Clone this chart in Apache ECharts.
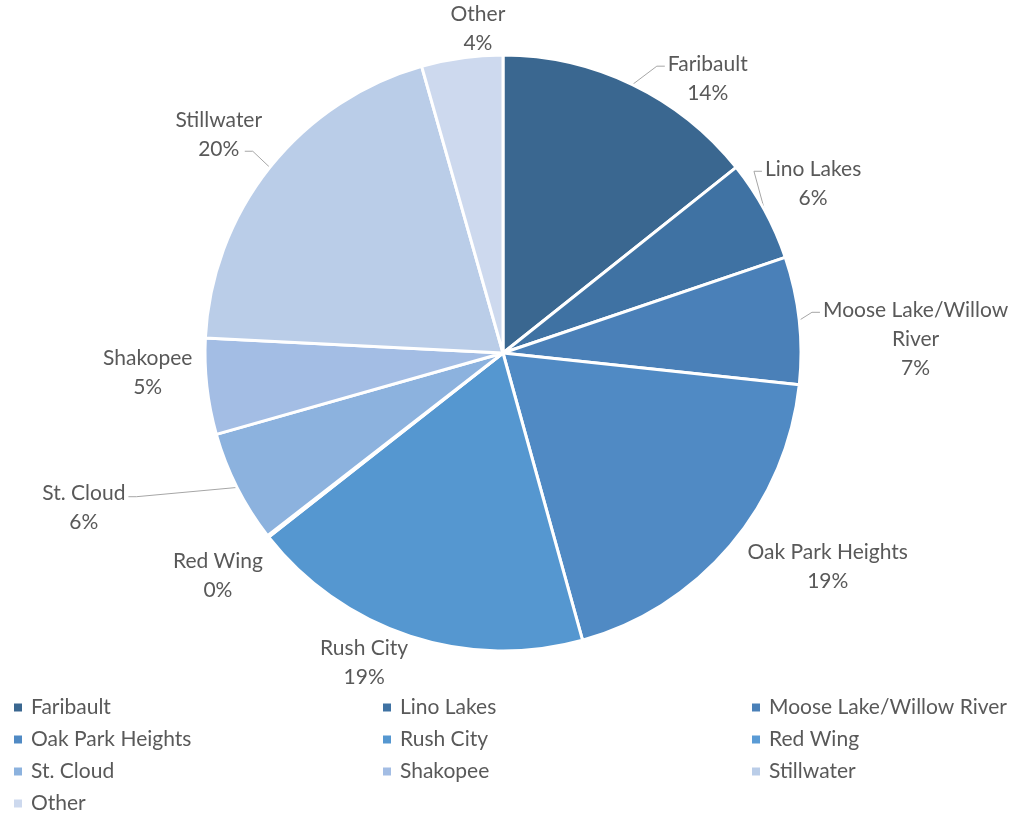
<!DOCTYPE html>
<html>
<head>
<meta charset="utf-8">
<script src="https://cdn.jsdelivr.net/npm/echarts@6/dist/echarts.min.js"></script>
<style>
html,body{margin:0;padding:0;background:#fff;}
#chart{width:1016px;height:817px;}
</style>
</head>
<body>
<div id="chart"></div>
<script>
const categories = ["Faribault","Lino Lakes","Moose Lake/Willow River","Oak Park Heights","Rush City","Red Wing","St. Cloud","Shakopee","Stillwater","Other"];
const shares = [14.3, 5.5, 6.9, 19.0, 18.7, 0.1, 6.1, 5.2, 19.8, 4.4];
const colors = ["#3A6790","#3F72A3","#4A80B8","#508AC4","#5597D0","#5A9BD5","#8CB2DE","#A3BDE4","#BACDE8","#CDD9EE"];
const legendCols = [
  ["Faribault","Oak Park Heights","St. Cloud","Other"],
  ["Lino Lakes","Rush City","Shakopee"],
  ["Moose Lake/Willow River","Red Wing","Stillwater"]
];

// label placement style (Excel best-fit look): [angular nudge deg, extra radial px, leader-line attach]
const labelNudge = {
  "Faribault": [11, 0, 'L1'], "Lino Lakes": [0, 0, 'L1'], "Moose Lake/Willow River": [4.4, 19, 'L1'],
  "Oak Park Heights": [-7, 9], "Rush City": [6, 0], "Red Wing": [0, 12], "St. Cloud": [6.5, 100, 'R1'],
  "Shakopee": [3.3, 10], "Stillwater": [-1, 10, 'R2'], "Other": [3.5, 0]
};

const CX = 503, CY = 353, R = 298, GAP = 2, LH = 29;
const total = shares.reduce((a, b) => a + b, 0);
const mids = [];
(function () { let acc = 0; shares.forEach(v => { mids.push((acc + v / 2) / total * 2 * Math.PI); acc += v; }); })();

function wrapName(n) {
  if (n.length <= 18) return n;
  const i = n.lastIndexOf(' ');
  return i > 0 ? n.slice(0, i) + '\n' + n.slice(i + 1) : n;
}

const chart = echarts.init(document.getElementById('chart'));
const font = "Lato, 'Open Sans', sans-serif";
const legendBase = {
  orient: 'vertical', top: 697, height: 130, padding: 0, itemWidth: 10, itemHeight: 10, itemGap: 11, icon: 'rect',
  selectedMode: false,
  textStyle: {color: '#595959', fontSize: 21, lineHeight: 21, fontFamily: font, padding: [0, 0, 0, 3]}
};
chart.setOption({
  animation: false,
  color: colors,
  legend: [
    Object.assign({}, legendBase, {left: 12, data: legendCols[0]}),
    Object.assign({}, legendBase, {left: 381, data: legendCols[1]}),
    Object.assign({}, legendBase, {left: 750, data: legendCols[2]})
  ],
  series: [{
    type: 'pie',
    center: [CX, CY],
    radius: R,
    startAngle: 90,
    clockwise: true,
    avoidLabelOverlap: false,
    itemStyle: {borderColor: '#fff', borderWidth: 3},
    label: {
      show: true, position: 'outside', color: '#595959', fontSize: 21, fontFamily: font,
      lineHeight: LH, align: 'center',
      formatter: p => wrapName(p.name) + '\n' + Math.round(p.value) + '%'
    },
    labelLine: {show: true, lineStyle: {color: '#A6A6A6', width: 1}},
    labelLayout: function (p) {
      const name = categories[p.dataIndex];
      const nudge = labelNudge[name] || [0, 0];
      const a = mids[p.dataIndex] + nudge[0] * Math.PI / 180;
      const ux = Math.sin(a), uy = -Math.cos(a);
      const w = p.labelRect.width, hf = p.labelRect.height, h = hf - 12;
      const d = R + GAP + nudge[1] + Math.abs(ux) * w / 2 + Math.abs(uy) * h / 2;
      const x = CX + ux * d, y = CY + uy * d;
      const m = mids[p.dataIndex];
      const ex = CX + Math.sin(m) * R, ey = CY - Math.cos(m) * R;
      const top = y - hf / 2;
      let pts = [[ex, ey], [ex, ey], [ex, ey]];
      if (nudge[2] === 'L1') {
        const ax = x - w / 2 - 3, ay = top + LH / 2 + 2;
        pts = [[ex, ey], [ax - 8, ay], [ax, ay]];
      } else if (nudge[2] === 'R1') {
        const ax = x + w / 2 + 3, ay = top + LH / 2 + 3;
        pts = [[ex, ey], [ax + 8, ay], [ax, ay]];
      } else if (nudge[2] === 'R2') {
        const ax = x + w * 0.3, ay = top + LH * 1.5 + 2;
        pts = [[ex, ey], [ax + 8, ay], [ax, ay]];
      }
      return {x: x, y: y, align: 'center', verticalAlign: 'middle', hideOverlap: false, labelLinePoints: pts};
    },
    emphasis: {disabled: true},
    data: categories.map((c, i) => ({name: c, value: shares[i]}))
  }]
});
</script>
</body>
</html>
